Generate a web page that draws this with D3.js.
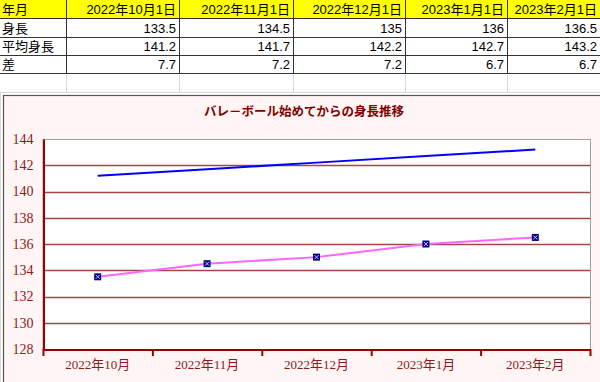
<!DOCTYPE html>
<html><head><meta charset="utf-8">
<script src="https://cdn.jsdelivr.net/npm/d3@7"></script>
<style>body{margin:0;background:#fff;}svg{display:block;}</style>
</head><body>
<svg id="c" width="600" height="382"></svg>
<script>
const headerLabel = "年月";
const dateLabels = ["2022年10月1日","2022年11月1日","2022年12月1日","2023年1月1日","2023年2月1日"];
const rowNames = ["身長","平均身長","差"];
const heightValues = [133.5, 134.5, 135, 136, 136.5];
const avgValues = [141.2, 141.7, 142.2, 142.7, 143.2];
const diffValues = [7.7, 7.2, 7.2, 6.7, 6.7];
const categories = ["2022年10月","2022年11月","2022年12月","2023年1月","2023年2月"];
const yTicks = [128,130,132,134,136,138,140,142,144];
const chartTitle = "バレ－ボール始めてからの身長推移";

const svg = d3.select("#c");
const sansFont = "'Liberation Sans','Noto Sans CJK JP',sans-serif";
const serifFont = "'Liberation Serif','Noto Sans CJK JP',serif";

// ---- spreadsheet table ----
const colEdges = [0, 66, 179, 293, 405, 507, 600];
const rowEdges = [0, 18, 37, 55, 73, 92];
const tableRows = [
  [headerLabel, ...dateLabels],
  [rowNames[0], ...heightValues.map(String)],
  [rowNames[1], ...avgValues.map(String)],
  [rowNames[2], ...diffValues.map(String)]
];
const tg = svg.append("g");
tg.append("rect").attr("x",0).attr("y",0).attr("width",600).attr("height",rowEdges[1]).attr("fill","#ffff00");
colEdges.slice(1,-1).forEach(x=>{
  tg.append("line").attr("x1",x+0.5).attr("x2",x+0.5).attr("y1",rowEdges[4]).attr("y2",rowEdges[5]).attr("stroke","#d8d8d8");
});
tg.append("line").attr("x1",0).attr("x2",600).attr("y1",rowEdges[5]+0.5).attr("y2",rowEdges[5]+0.5).attr("stroke","#d8d8d8");
[1,2,3,4].forEach(i=>{
  tg.append("line").attr("x1",0).attr("x2",600).attr("y1",rowEdges[i]+0.5).attr("y2",rowEdges[i]+0.5).attr("stroke","#333");
});
colEdges.slice(1,-1).forEach(x=>{
  tg.append("line").attr("x1",x+0.5).attr("x2",x+0.5).attr("y1",0).attr("y2",rowEdges[4]).attr("stroke","#333");
});
tableRows.forEach((row,ri)=>{
  row.forEach((txt,ci)=>{
    const yMid = (rowEdges[ri]+rowEdges[ri+1])/2;
    const t = tg.append("text").text(txt)
      .attr("y", yMid+5)
      .attr("font-family", sansFont).attr("font-size", 13).attr("fill","#000");
    if(ci===0){ t.attr("x", 2); }
    else { t.attr("x", colEdges[ci+1]-3).attr("text-anchor","end"); }
  });
});

// ---- chart ----
const chartX = 3, chartY = 95;
svg.append("rect").attr("x",chartX+0.5).attr("y",chartY+0.5).attr("width",600).attr("height",300)
  .attr("fill","#fff5f5").attr("stroke","#555").attr("stroke-width",1.2);
svg.append("line").attr("x1",0.5).attr("x2",0.5).attr("y1",92).attr("y2",382).attr("stroke","#d8d8d8");

const plot = {left:43, right:590, top:139, bottom:349};
const x = d3.scaleBand().domain(categories).range([plot.left, plot.right]).padding(0);
const y = d3.scaleLinear().domain([128,144]).range([plot.bottom, plot.top]);
const cx = d => x(d) + x.bandwidth()/2;

svg.append("rect").attr("x",plot.left).attr("y",plot.top+0.5).attr("width",plot.right-plot.left+0.5).attr("height",plot.bottom-plot.top)
  .attr("fill","#fff").attr("stroke","#a0a0a0").attr("stroke-width",1);

const darkRed = "#990000";
svg.append("g").selectAll("line").data(yTicks.slice(1,-1)).join("line")
  .attr("x1",plot.left).attr("x2",plot.right)
  .attr("y1",d=>Math.round(y(d))+0.5).attr("y2",d=>Math.round(y(d))+0.5)
  .attr("stroke","#a04848").attr("stroke-width",1.3);

const yAxis = d3.axisLeft(y).tickValues(yTicks).tickSize(0).tickPadding(10).tickFormat(d3.format("d"));
const yg = svg.append("g").attr("transform",`translate(${plot.left+0.5},0)`).call(yAxis);
yg.select(".domain").attr("stroke",darkRed).attr("stroke-width",2);
yg.selectAll("text").attr("font-family",serifFont).attr("font-size",14).attr("fill","#8b1a1a");

const xAxis = d3.axisBottom(x).tickSize(0).tickPadding(8);
const xg = svg.append("g").attr("transform",`translate(0,${plot.bottom+0.5})`).call(xAxis);
xg.select(".domain").attr("stroke",darkRed).attr("stroke-width",2);
xg.selectAll("text").attr("font-family",serifFont).attr("font-size",13).attr("fill","#8b1a1a").attr("dy","0.85em");
const bounds = categories.map(c=>x(c)).concat([plot.right]);
svg.append("g").selectAll("line").data(bounds).join("line")
  .attr("x1",d=>d+0.5).attr("x2",d=>d+0.5).attr("y1",plot.bottom).attr("y2",plot.bottom+7)
  .attr("stroke",darkRed).attr("stroke-width",2);

svg.append("text").attr("x",304).attr("y",116).attr("text-anchor","middle")
  .attr("font-family",serifFont).attr("font-weight","bold").attr("font-size",12.5).attr("fill","#800000")
  .text(chartTitle);

const line = d3.line().x((d,i)=>cx(categories[i])).y(d=>y(d));
svg.append("path").datum(avgValues).attr("d",line).attr("fill","none").attr("stroke","#0000ff").attr("stroke-width",2);
svg.append("path").datum(heightValues).attr("d",line).attr("fill","none").attr("stroke","#ff66ff").attr("stroke-width",2);

const mg = svg.append("g").selectAll("g").data(heightValues).join("g")
  .attr("transform",(d,i)=>`translate(${cx(categories[i])},${y(d)})`);
mg.append("rect").attr("x",-3.5).attr("y",-3.5).attr("width",7).attr("height",7).attr("fill","#000080");
mg.append("path").attr("d","M-2,-2L2,2M2,-2L-2,2").attr("stroke","#c8c8ff").attr("stroke-width",1);
</script>
</body></html>
